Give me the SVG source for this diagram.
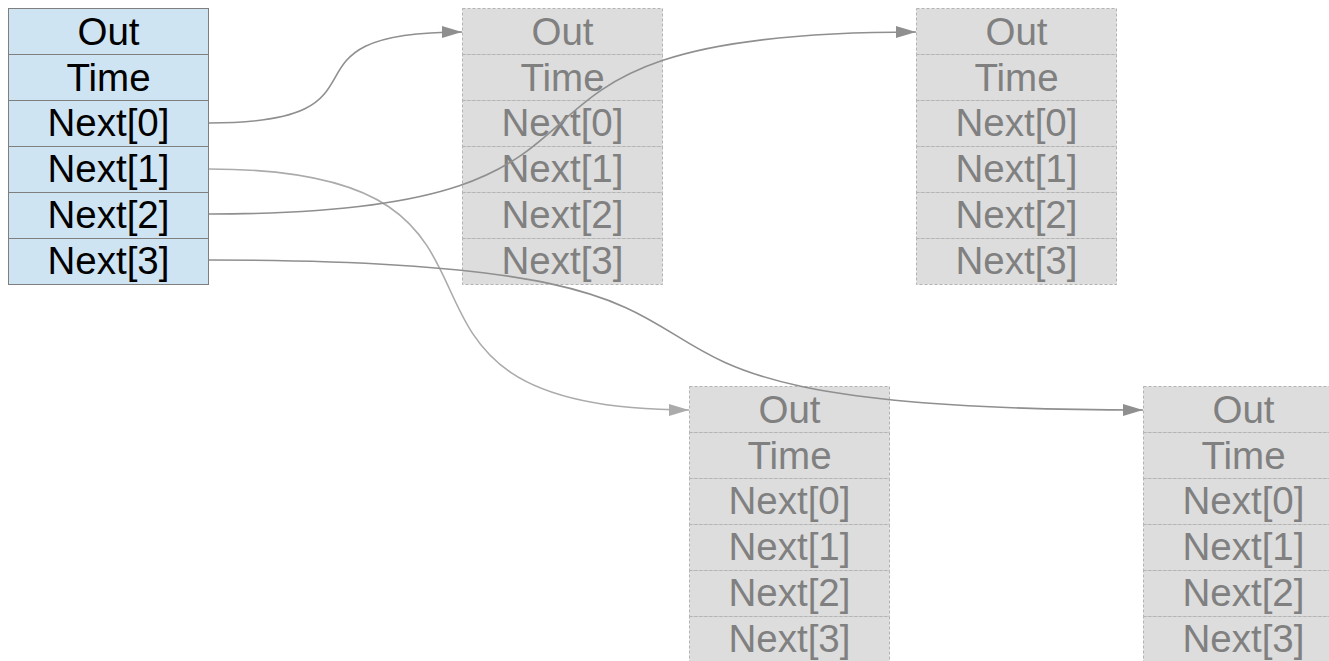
<svg xmlns="http://www.w3.org/2000/svg" width="1329" height="661" viewBox="0 0 1329 661">
<style>
  .b rect { fill: #cfe4f3; stroke: #7f7f7f; stroke-width: 1; }
  .b text { fill: #000000; }
  .g rect { fill: #dddddd; stroke: #b3b3b3; stroke-width: 1; stroke-dasharray: 3 2; }
  .g text { fill: #808080; }
  text { font-family: "Liberation Sans", Arial, sans-serif; font-size: 38.5px; text-anchor: middle; }
  .c path { fill: none; stroke-width: 1.6; }
  .d { stroke: #8f8f8f; }
  .l { stroke: #ababab; }
</style>
<defs>
  <marker id="ad" markerUnits="userSpaceOnUse" markerWidth="22" markerHeight="14" refX="20" refY="6" orient="auto">
    <path d="M0,0 L20,6 L0,12 z" fill="#8f8f8f"/>
  </marker>
  <marker id="al" markerUnits="userSpaceOnUse" markerWidth="22" markerHeight="14" refX="20" refY="6" orient="auto">
    <path d="M0,0 L20,6 L0,12 z" fill="#ababab"/>
  </marker>
</defs>

<g id="node-src" class="b">
  <rect x="8.5" y="8.5" width="200" height="46"/><text x="108.5" y="44.5">Out</text>
  <rect x="8.5" y="54.5" width="200" height="46"/><text x="108.5" y="90.5">Time</text>
  <rect x="8.5" y="100.5" width="200" height="46"/><text x="108.5" y="136">Next[0]</text>
  <rect x="8.5" y="146.5" width="200" height="46"/><text x="108.5" y="182">Next[1]</text>
  <rect x="8.5" y="192.5" width="200" height="46"/><text x="108.5" y="228">Next[2]</text>
  <rect x="8.5" y="238.5" width="200" height="46"/><text x="108.5" y="274">Next[3]</text>
</g>

<g id="node-a" class="g">
  <rect x="462.5" y="8.5" width="200" height="46"/><text x="562.5" y="44.5">Out</text>
  <rect x="462.5" y="54.5" width="200" height="46"/><text x="562.5" y="90.5">Time</text>
  <rect x="462.5" y="100.5" width="200" height="46"/><text x="562.5" y="136">Next[0]</text>
  <rect x="462.5" y="146.5" width="200" height="46"/><text x="562.5" y="182">Next[1]</text>
  <rect x="462.5" y="192.5" width="200" height="46"/><text x="562.5" y="228">Next[2]</text>
  <rect x="462.5" y="238.5" width="200" height="46"/><text x="562.5" y="274">Next[3]</text>
</g>

<g id="node-b" class="g">
  <rect x="916.5" y="8.5" width="200" height="46"/><text x="1016.5" y="44.5">Out</text>
  <rect x="916.5" y="54.5" width="200" height="46"/><text x="1016.5" y="90.5">Time</text>
  <rect x="916.5" y="100.5" width="200" height="46"/><text x="1016.5" y="136">Next[0]</text>
  <rect x="916.5" y="146.5" width="200" height="46"/><text x="1016.5" y="182">Next[1]</text>
  <rect x="916.5" y="192.5" width="200" height="46"/><text x="1016.5" y="228">Next[2]</text>
  <rect x="916.5" y="238.5" width="200" height="46"/><text x="1016.5" y="274">Next[3]</text>
</g>

<g id="node-c" class="g">
  <rect x="689.5" y="386.5" width="200" height="46"/><text x="789.5" y="422.5">Out</text>
  <rect x="689.5" y="432.5" width="200" height="46"/><text x="789.5" y="468.5">Time</text>
  <rect x="689.5" y="478.5" width="200" height="46"/><text x="789.5" y="514">Next[0]</text>
  <rect x="689.5" y="524.5" width="200" height="46"/><text x="789.5" y="560">Next[1]</text>
  <rect x="689.5" y="570.5" width="200" height="46"/><text x="789.5" y="606">Next[2]</text>
  <rect x="689.5" y="616.5" width="200" height="46"/><text x="789.5" y="652">Next[3]</text>
</g>

<g id="node-d" class="g">
  <rect x="1143.5" y="386.5" width="200" height="46"/><text x="1243.5" y="422.5">Out</text>
  <rect x="1143.5" y="432.5" width="200" height="46"/><text x="1243.5" y="468.5">Time</text>
  <rect x="1143.5" y="478.5" width="200" height="46"/><text x="1243.5" y="514">Next[0]</text>
  <rect x="1143.5" y="524.5" width="200" height="46"/><text x="1243.5" y="560">Next[1]</text>
  <rect x="1143.5" y="570.5" width="200" height="46"/><text x="1243.5" y="606">Next[2]</text>
  <rect x="1143.5" y="616.5" width="200" height="46"/><text x="1243.5" y="652">Next[3]</text>
</g>

<g id="connectors" class="c">
  <path class="d" d="M209,123 C410,123 260,32 462,32" marker-end="url(#ad)"/>
  <path class="l" d="M209,169 C580,169 320,410 689,410" marker-end="url(#al)"/>
  <path class="d" d="M209,214 C710,214 410,32 916,32" marker-end="url(#ad)"/>
  <path class="d" d="M209,260 C900,260 450,410 1143,410" marker-end="url(#ad)"/>
</g>
</svg>
